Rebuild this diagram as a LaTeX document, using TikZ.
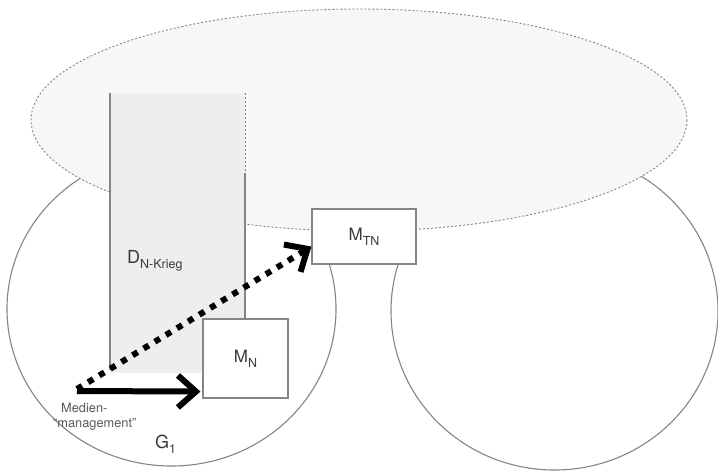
\documentclass[tikz,border=0pt]{standalone}
\usepackage{fontspec}
\setmainfont{TeX Gyre Heros}
\usetikzlibrary{arrows.meta,calc}
\definecolor{edgegray}{HTML}{858585}
\definecolor{ellfill}{HTML}{F7F7F7}
\definecolor{rectfill}{HTML}{EEEEEE}
\definecolor{txtgray}{HTML}{3A3A3A}
\definecolor{smallgray}{HTML}{5A5A5A}
\newcommand\lowidx[1]{\raisebox{-5pt}{\fontsize{12.5}{12.5}\selectfont #1}}
\begin{document}
\begin{tikzpicture}[x=1pt,y=-1pt,
  circ/.style={draw=edgegray, line width=1.1pt},
  cloud/.style={fill=ellfill, draw=edgegray, line width=0.9pt, dash pattern=on 2pt off 2pt},
  rectedge/.style={draw=edgegray, line width=1.1pt},
  rectdash/.style={draw=edgegray, line width=0.9pt, dash pattern=on 2pt off 2pt},
  mbox/.style={draw=edgegray, fill=white, line width=1.1pt, inner sep=0pt,
    text=txtgray, font=\fontsize{17}{17}\selectfont},
  bigtxt/.style={inner sep=0pt, text=txtgray, font=\fontsize{18}{18}\selectfont},
  smalltxt/.style={inner sep=0pt, text=smallgray, font=\fontsize{12.8}{12.8}\selectfont},
  fatarrow/.style={line width=6pt, black,
    -{Straight Barb[length=18pt,width=32pt,line width=6pt]}},
  dotarrow/.style={line width=6pt, black, dash pattern=on 6pt off 7pt,
    -{Straight Barb[length=18pt,width=32pt,line width=6pt]}}
]
\fill[white] (0,0) rectangle (718,472);
\useasboundingbox (0,0) rectangle (718,472);

% two groups
\draw[circ] (171.5,309) ellipse [x radius=164.5, y radius=157];
\draw[circ] (554.5,311) ellipse [x radius=163.5, y radius=159];

% overarching ellipse
\draw[cloud] (359,120) ellipse [x radius=328, y radius=111];

% discourse rectangle
\fill[rectfill] (110,93) rectangle (245,373);
\draw[rectedge] (110,93) -- (110,370);
\draw[rectdash] (245,93) -- (245,173);
\draw[rectedge] (245,173) -- (245,319);

% boxes
\node[mbox, minimum width=104pt, minimum height=55pt] (MTN) at (364,236.5) {M\lowidx{TN}};
\node[mbox, minimum width=85pt, minimum height=79pt] (MN) at (245.5,358.5) {M\lowidx{N}};

% labels
\node[bigtxt, anchor=base west] (D) at (127,263) {D\lowidx{N-Krieg}};
\node[bigtxt, anchor=base west] (G) at (155,448) {G\lowidx{1}};
\node[smalltxt, anchor=base west] (lab1) at (61,412) {Medien-};
\node[smalltxt, anchor=base west] (lab2) at (53,427) {“management”};

% arrows
\coordinate (src) at (77,391);
\coordinate (srcb) at (77,389);
\draw[fatarrow, shorten >=2pt] (src) -- ([yshift=7pt]MN.south west);
\draw[dotarrow] (srcb) -- ([yshift=18pt]MTN.south west);
\end{tikzpicture}
\end{document}
